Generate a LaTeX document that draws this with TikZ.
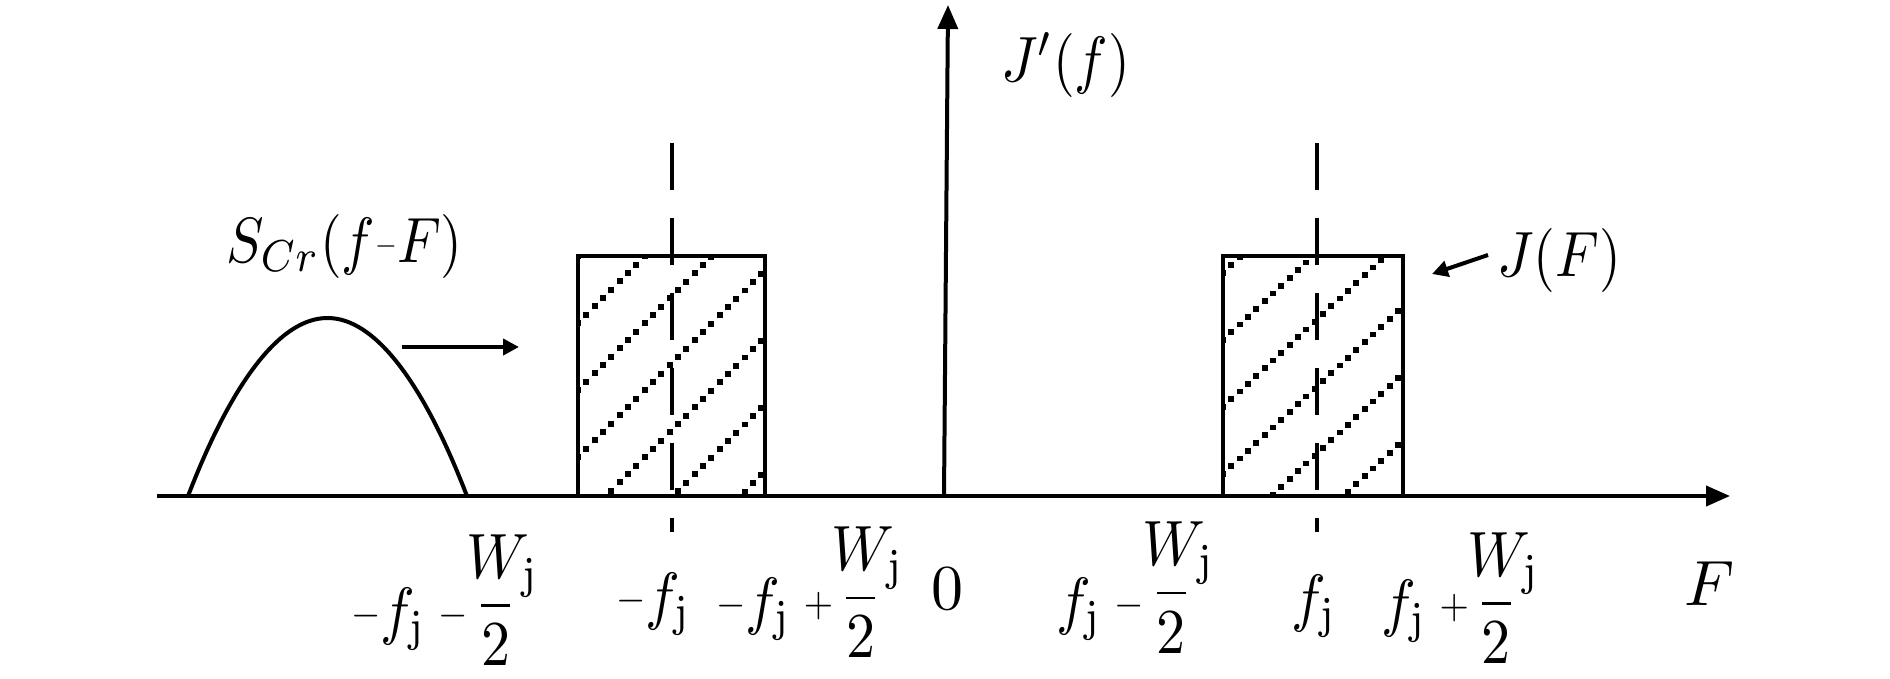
\documentclass[tikz,border=0pt]{standalone}
\usepackage{amsmath}
\usepackage{graphicx}
\usetikzlibrary{arrows.meta}
\newcommand{\smop}[2][0.65]{\vcenter{\hbox{\scalebox{#1}{$#2$}}}}
\newcommand{\bmi}{\mathbin{\smop{-}}}
\newcommand{\bpl}{\mathbin{\smop{+}}}
\newcommand{\wfr}[1][0.95pt]{\raisebox{#1}{\nulldelimiterspace=0pt $\displaystyle\frac{\makebox[0.5em]{\hspace{0.25em}$W_{\mathrm{j}}$}}{2}$}}
\newcommand{\bigtxt}[2][6.4]{\scalebox{#1}[6.4]{#2}}
\tikzset{
  lab/.style={inner sep=0pt, outer sep=0pt},
  axisline/.style={line width=4pt, -{Triangle[length=24pt,width=20pt]}},
  bandbox/.style={line width=4pt},
  dashline/.style={line width=3.5pt, dash pattern=on 47pt off 28pt},
  curveline/.style={line width=4pt},
  pointer/.style={line width=4pt, -{Triangle[length=16pt,width=16pt]}},
  hdot/.style={fill=black}
}
\begin{document}
\begin{tikzpicture}[x=1pt,y=-1pt]
\useasboundingbox (0,0) rectangle (1890,678);
\fill[white] (0,0) rectangle (1890,678);

% coordinates
\coordinate (ax0) at (157,496);
\coordinate (ax1) at (1730,496);
\coordinate (ay0) at (944,496);
\coordinate (ay1) at (948,5);

% hatching, left band
\begin{scope}
\clip (578,256) rectangle (765,496);
\foreach \k in {0,...,6}{
  \foreach \i in {0,...,24}{
    \fill[hdot] ({578+8.33*\i-2.9},{256+67*\k-8.33*\i-2.9}) rectangle ++(5.8,5.8);
  }
}
\end{scope}
% hatching, right band
\begin{scope}
\clip (1223,256) rectangle (1403,496);
\foreach \k in {0,...,5}{
  \foreach \i in {0,...,23}{
    \fill[hdot] ({1223+8.33*\i-2.9},{273+67*\k-7.75*\i-2.9}) rectangle ++(5.8,5.8);
  }
}
\end{scope}

% bands
\draw[bandbox] (578,496) |- (765,256) -- (765,496);
\draw[bandbox] (1223,496) |- (1403,256) -- (1403,496);

% dashed centre lines
\coordinate (dl0) at (672,143);
\coordinate (dl1) at (672,532);
\coordinate (dr0) at (1317,143);
\coordinate (dr1) at (1317,532);
\draw[dashline] (dl0) -- (dl1);
\draw[dashline] (dr0) -- (dr1);

% hump
\coordinate (h0) at (188,496);
\coordinate (hb) at (327.5,318);
\coordinate (h1) at (467,496);
\draw[curveline] (h0) parabola bend (hb) (h1);

% axes
\draw[axisline] (ax0) -- (ax1);
\draw[axisline] (ay0) -- (ay1);

% labels
\node[lab, anchor=base west] (jp) at (1001,81) {\bigtxt[5.6]{$J'(f)$}};
\node[lab, anchor=base west] (jf) at (1497,276) {\bigtxt[5.6]{$J(F)$}};
\node[lab, anchor=base west] (sc) at (226,262) {\bigtxt[5.6]{$S_{Cr}(f\mathord{\smop[0.5]{-}}F)$}};

\node[lab, anchor=base west] (l1) at (351,632) {\bigtxt[5.8]{$\bmi f_{\mathrm{j}}\bmi\wfr[1.6pt]$}};
\node[lab, anchor=base west] (l2) at (616,617) {\bigtxt[5.8]{$\bmi f_{\mathrm{j}}$}};
\node[lab, anchor=base west] (l3) at (716,622) {\bigtxt[5.8]{$\bmi f_{\mathrm{j}}\bpl\wfr[1.25pt]$}};
\node[lab, anchor=base] (l4) at (947.5,609) {\bigtxt{$0$}};
\node[lab, anchor=base west] (l5) at (1056,622) {\bigtxt[5.8]{$f_{\mathrm{j}}\bmi\wfr[2pt]$}};
\node[lab, anchor=base west] (l6) at (1291,619) {\bigtxt[5.8]{$f_{\mathrm{j}}$}};
\node[lab, anchor=base west] (l7) at (1381,624) {\bigtxt[5.8]{$f_{\mathrm{j}}\bpl\wfr[0.7pt]$}};
\node[lab, anchor=base west] (lF) at (1684,605) {\bigtxt{$F$}};

% pointer arrows
\coordinate (ps0) at (402,347);
\coordinate (ps1) at (519,347);
\coordinate (pj0) at (1488,255);
\coordinate (pj1) at (1432,274);
\draw[pointer] (ps0) -- (ps1);
\draw[pointer] (pj0) -- (pj1);
\end{tikzpicture}
\end{document}
